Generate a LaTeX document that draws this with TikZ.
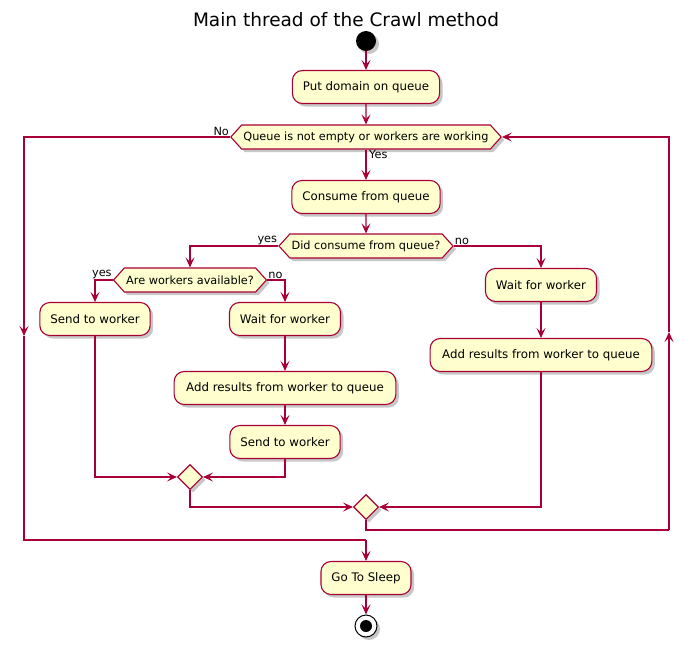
\documentclass[tikz,border=0pt]{standalone}
\usepackage{fontspec}
\setmainfont{DejaVu Sans}
\usetikzlibrary{shapes.symbols,shapes.geometric,arrows.meta,shadows}

\definecolor{umlred}{HTML}{A80036}
\definecolor{umlfill}{HTML}{FEFECE}

\tikzset{
    umlshadow/.style={drop shadow={shadow xshift=3pt, shadow yshift=-3pt, opacity=0.22, fill=black}},
    action/.style={draw=umlred, fill=umlfill, line width=1.1pt, rounded corners=10pt,
        minimum height=33pt, inner xsep=10.5pt, font=\fontsize{11.8}{13}\selectfont, umlshadow},
    decision/.style={signal, signal to=east and west, signal pointer angle=96, draw=umlred,
        fill=umlfill, line width=1.1pt, minimum height=24pt, inner xsep=1.8pt, inner ysep=0pt,
        font=\fontsize{11.3}{13}\selectfont, umlshadow},
    merge/.style={diamond, draw=umlred, fill=umlfill, line width=1.1pt, minimum size=25pt,
        inner sep=0pt, umlshadow},
    line/.style={draw=umlred, line width=1.1pt},
    flow/.style={line, -{Stealth[length=10pt,width=9pt,inset=4.5pt]}},
    lbl/.style={font=\fontsize{11.3}{13}\selectfont, inner sep=1pt},
}

\begin{document}
\begin{tikzpicture}[x=1pt,y=-1pt]
    \useasboundingbox (0,0) rectangle (693,653);

    % Title
    \node[font=\fontsize{18.5}{20}\selectfont] (title) at (346,20) {Main thread of the Crawl method};

    % Start and first action
    \node[circle, fill=black, minimum size=20pt, inner sep=0pt, umlshadow] (start) at (366,41) {};
    \node[action] (put) at (366,87) {Put domain on queue};
    \node[decision] (loop) at (366,137) {Queue is not empty or workers are working};
    \node[action] (consume) at (366,197) {Consume from queue};
    \node[decision] (didconsume) at (366,246) {Did consume from queue?};

    % yes branch
    \node[decision] (available) at (190,280) {Are workers available?};
    \node[action] (sendA) at (95,319) {Send to worker};
    \node[action] (waitA) at (285,319) {Wait for worker};
    \node[action, inner xsep=12pt] (addA) at (285,388) {Add results from worker to queue};
    \node[action] (sendB) at (285,442) {Send to worker};
    \node[merge] (mergeA) at (190,477) {};

    % no branch
    \node[action] (waitB) at (541,285) {Wait for worker};
    \node[action, inner xsep=12pt] (addB) at (541,355) {Add results from worker to queue};
    \node[merge] (mergeB) at (366,507) {};

    % End
    \node[action] (sleep) at (366,578) {Go To Sleep};
    \node[circle, draw=black, fill=white, line width=1pt, minimum size=22pt, inner sep=0pt, umlshadow] (stop) at (366,626) {};
    \node[circle, fill=black, minimum size=12pt, inner sep=0pt] (stopdot) at (stop.center) {};

    % Loop corners
    \coordinate (noarrow) at (24,336);
    \coordinate (exitjoin) at (366,540);
    \coordinate (backcorner) at (669,530);
    \coordinate (backarrow) at (669,332);

    % Connectors
    \draw[flow] (start) -- (put);
    \draw[flow] (put) -- (loop);
    \draw[flow] (loop.south) -- (consume.north);
    \draw[flow] (consume) -- (didconsume);
    \draw[flow] (didconsume.west) -| (available.north);
    \draw[flow] (didconsume.east) -| (waitB.north);
    \draw[flow] (available.west) -| (sendA.north);
    \draw[flow] (available.east) -| (waitA.north);
    \draw[flow] (waitA) -- (addA);
    \draw[flow] (addA) -- (sendB);
    \draw[flow] (sendA.south) |- (mergeA.west);
    \draw[flow] (sendB.south) |- (mergeA.east);
    \draw[flow] (mergeA.south) |- (mergeB.west);
    \draw[flow] (waitB) -- (addB);
    \draw[flow] (addB.south) |- (mergeB.east);
    \draw[line] (mergeB.south) |- (backcorner);
    \draw[flow] (backcorner) -- (backarrow);
    \draw[flow] (backarrow) |- (loop.east);
    \draw[flow] (loop.west) -| (noarrow);
    \draw[line] (noarrow) |- (exitjoin);
    \draw[flow] (exitjoin) -- (sleep.north);
    \draw[flow] (sleep) -- (stop);

    % Labels
    \node[lbl, anchor=south east] (lno) at (loop.west) {No};
    \node[lbl, anchor=north west, xshift=2pt] (lyes) at (loop.south) {Yes};
    \node[lbl, anchor=south east] (dyes) at (didconsume.west) {yes};
    \node[lbl, anchor=south west] (dno) at (didconsume.east) {no};
    \node[lbl, anchor=south east] (ayes) at (available.west) {yes};
    \node[lbl, anchor=south west] (ano) at (available.east) {no};
\end{tikzpicture}
\end{document}
